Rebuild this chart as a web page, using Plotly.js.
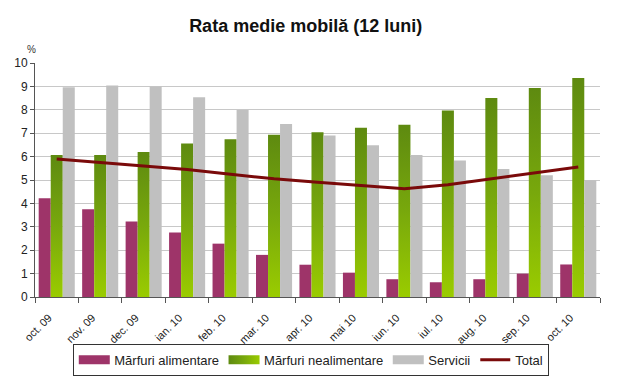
<!DOCTYPE html>
<html><head><meta charset="utf-8">
<script src="https://cdn.plot.ly/plotly-3.0.1.min.js"></script>
<style>body{margin:0;background:#fff}#c{width:620px;height:390px}</style>
</head><body><div id="c"></div>
<script>
const months = ["oct. 09","nov. 09","dec. 09","ian. 10","feb. 10","mar. 10","apr. 10","mai 10","iun. 10","iul. 10","aug. 10","sep. 10","oct. 10"];
const alimentare = [4.22,3.75,3.23,2.76,2.28,1.80,1.38,1.04,0.76,0.63,0.76,1.00,1.39];
const nealimentare = [6.07,6.07,6.20,6.56,6.74,6.93,7.04,7.23,7.36,7.97,8.50,8.93,9.36];
const servicii = [8.96,9.04,9.00,8.54,7.99,7.39,6.90,6.49,6.07,5.83,5.47,5.20,4.99];
const total = [5.90,5.75,5.60,5.45,5.25,5.05,4.90,4.78,4.63,4.80,5.05,5.30,5.56];

const font = "Liberation Sans, Arial, sans-serif";
const data = [
  {type:"bar", name:"Mărfuri alimentare", x:months, y:alimentare, marker:{color:"#9E3469"}},
  {type:"bar", name:"Mărfuri nealimentare", x:months, y:nealimentare, marker:{color:"#77A80E"}},
  {type:"bar", name:"Servicii", x:months, y:servicii, marker:{color:"#C0C0C0"}},
  {type:"scatter", mode:"lines", name:"Total", x:months, y:total, line:{color:"#7A0A0A", width:3}}
];
const layout = {
  width:620, height:390,
  margin:{l:35, r:20, t:63, b:93},
  paper_bgcolor:"#fff", plot_bgcolor:"#fff",
  font:{family:font, size:11, color:"#222"},
  title:{text:"<b>Rata medie mobilă (12 luni)</b>", font:{family:font, size:18, color:"#111"}, x:0.493, xanchor:"center", y:0.935, yanchor:"middle"},
  barmode:"group", bargap:0.17, bargroupgap:0,
  xaxis:{type:"category", tickangle:-45, ticks:"outside", ticklen:5, tickcolor:"#555",
    showline:true, linecolor:"#555", linewidth:1, tickson:"boundaries",
    ticklabelshift:-8, ticklabelstandoff:9,
    tickfont:{family:font, size:11, color:"#222"}, showgrid:false},
  yaxis:{range:[0,10], dtick:1, ticks:"outside", ticklen:4, tickcolor:"#555",
    showline:true, linecolor:"#555", linewidth:1, gridcolor:"#C8C8C8", gridwidth:1,
    tickfont:{family:font, size:12, color:"#222"}, zeroline:false},
  legend:{orientation:"h", x:0.489, xanchor:"center", y:-0.2, yanchor:"top",
    bordercolor:"#333", borderwidth:1, font:{family:font, size:13, color:"#222"},
    traceorder:"normal", itemwidth:30, tracegroupgap:0},
  annotations:[{text:"%", xref:"paper", yref:"paper", x:-0.007, y:1.056, xanchor:"center", yanchor:"middle", showarrow:false, font:{family:font, size:10, color:"#333"}}]
};
Plotly.newPlot("c", data, layout, {staticPlot:true}).then(function(){
  const svg = document.querySelector("#c svg.main-svg");
  const ns = "http://www.w3.org/2000/svg";
  let defs = svg.querySelector("defs");
  if(!defs){defs=document.createElementNS(ns,"defs");svg.insertBefore(defs,svg.firstChild);}
  const g = document.createElementNS(ns,"linearGradient");
  g.setAttribute("id","greenGrad"); g.setAttribute("x1","0"); g.setAttribute("y1","0"); g.setAttribute("x2","0"); g.setAttribute("y2","1");
  [["0","#5E8A10"],["0.5","#78A80C"],["1","#9ACC00"]].forEach(function(s){
    const st=document.createElementNS(ns,"stop"); st.setAttribute("offset",s[0]); st.setAttribute("stop-color",s[1]); g.appendChild(st);});
  defs.appendChild(g);
  const g2 = g.cloneNode(true); g2.setAttribute("id","greenGradH"); g2.setAttribute("x2","1"); g2.setAttribute("y2","0");
  defs.appendChild(g2);
  const traces = document.querySelectorAll("#c .barlayer .trace.bars");
  if(traces[1]) traces[1].querySelectorAll("path").forEach(function(p){p.style.fill="url(#greenGrad)";});
  const leg = document.querySelectorAll("#c .legend .traces");
  leg.forEach(function(t, i){
    if(i < 3) t.querySelectorAll(".legendpoints path").forEach(function(p){
      p.setAttribute("d","M15.5,4.5H-15.5V-4.5H15.5Z");
      if(i === 1) p.style.fill = "url(#greenGradH)";
    });
  });
});
</script></body></html>
